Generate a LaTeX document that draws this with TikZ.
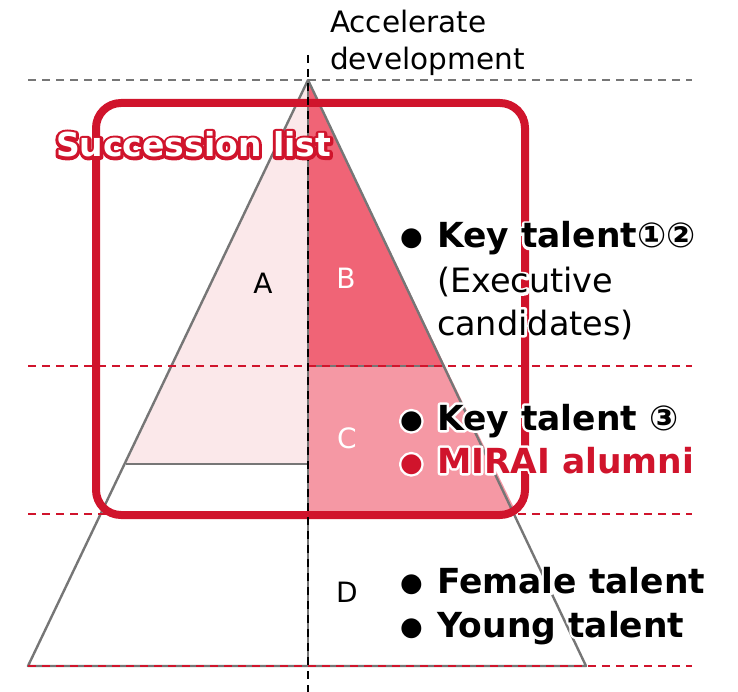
\documentclass[tikz,border=0pt]{standalone}
\usepackage{fontspec}
\setmainfont{DejaVu Sans}
\usepackage{tikz}
\usetikzlibrary{positioning,calc}
\definecolor{listred}{RGB}{208,20,44}
\definecolor{tierA}{RGB}{251,232,234}
\definecolor{tierB}{RGB}{240,100,118}
\definecolor{tierC}{RGB}{245,152,164}
\definecolor{edgegray}{RGB}{118,118,118}
% stroked copy of the text under the text itself
\newcommand\halo[3][5]{\leavevmode\rlap{\textcolor{#2}{\special{pdf:literal direct 1 Tr #1 w 1 J 1 j}#3\special{pdf:literal direct 0 Tr 0.4 w}}}#3}
\newcommand\bul{\makebox[37pt][l]{\raisebox{2pt}{\fontsize{26}{26}\selectfont ●}}}
\tikzstyle{every node}=[inner sep=0pt,outer sep=0pt]
\tikzstyle{tier}=[font=\fontsize{28}{32}\selectfont]
\tikzstyle{item}=[anchor=base west,font=\fontsize{34.5}{38}\selectfont\bfseries]
\tikzstyle{note}=[anchor=base west,font=\fontsize{33.5}{38}\selectfont]
\tikzstyle{guide}=[dashed,dash pattern=on 8pt off 6pt,line width=1.6pt]

\begin{document}
\begin{tikzpicture}[x=1pt,y=-1pt]
  \useasboundingbox (0,0) rectangle (738,692);
  \coordinate (apex) at (308,80);
  \coordinate (bl) at (28,666);
  \coordinate (br) at (586,666);

  % tiers left (A) and right (B, C)
  \fill[tierA] (apex) -- (126,464) -- (308,464) -- cycle;
  \fill[tierB] (apex) -- (445,366) -- (308,366) -- cycle;
  \fill[tierC] (308,366) -- (445,366) -- (517,514) -- (308,514) -- cycle;
  \draw[edgegray,line width=2pt] (126,464) -- (308,464);
  \draw[edgegray,line width=2pt] (308,366) -- (445,366);
  \draw[edgegray,line width=2pt] (apex) -- (308,666);
  \draw[edgegray,line width=2.4pt,line join=round] (apex) -- (bl) -- (br) -- cycle;

  % level guides
  \draw[guide,edgegray] (28,80) -- (692,80);
  \foreach \y in {366,514,666}
    \draw[guide,listred] (28,\y) -- (692,\y);

  % succession list frame
  \draw[listred,line width=8pt,rounded corners=25pt] (96,103) rectangle (525,515);
  \draw[guide,black,line width=2pt] (308,55) -- (308,692);

  \node[tier] (a) at (263,283) {A};
  \node[tier,white] (b) at (346,278) {B};
  \node[tier,white] (c) at (347,438) {C};
  \node[tier] (d) at (347,592) {D};

  \node[anchor=base west,font=\fontsize{29.5}{34}\selectfont] (acc) at (330,33) {Accelerate};
  \node[anchor=base west,font=\fontsize{29.5}{34}\selectfont] (dev) at (330,70) {development};

  \node[anchor=base west,font=\fontsize{33}{38}\selectfont\bfseries,white] (list) at (56,157)
    {\halo[6]{listred}{Succession list}};

  \node[item] (key12) at (400,248) {\halo{white}{\bul Key talent①②}};
  \node[note] (exec) at (437,293) {\halo{white}{(Executive}};
  \node[note] (cand) at (437,335) {\halo{white}{candidates)}};
  \node[item] (key3) at (400,430) {\halo{white}{\bul Key talent ③}};
  \node[item,listred] (mirai) at (400,473) {\halo{white}{\bul MIRAI alumni}};
  \node[item] (female) at (400,593) {\halo{white}{\bul Female talent}};
  \node[item] (young) at (400,637) {\halo{white}{\bul Young talent}};
\end{tikzpicture}
\end{document}
